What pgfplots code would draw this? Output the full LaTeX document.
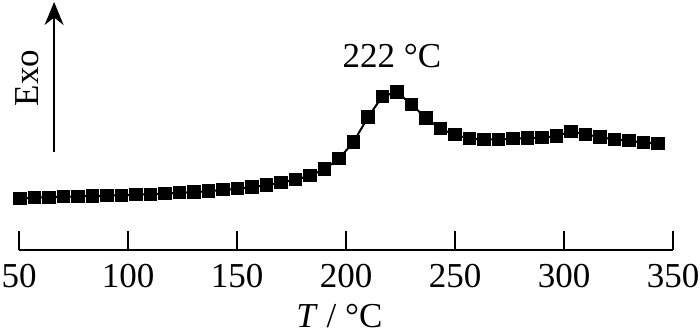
\documentclass[border=0pt]{standalone}
\usepackage{pgfplots}
\pgfplotsset{compat=1.18}
\usepackage{fontspec}
\setmainfont{Liberation Serif}
\usetikzlibrary{arrows.meta}
\begin{document}
\begin{tikzpicture}
\fontsize{17.5}{20}\selectfont
\begin{axis}[
  at={(0,0)}, anchor=south west,
  scale only axis, width=327pt, height=125.2pt,
  xmin=50, xmax=350, ymin=0, ymax=250.4,
  axis x line=bottom, hide y axis,
  x axis line style={-, line width=1pt},
  xtick={50,100,...,350},
  tick align=inside, major tick length=9.5pt,
  tick style={line width=1pt, black},
  xticklabel style={font=\fontsize{17.5}{20}\selectfont, yshift=-1pt},
  /pgf/number format/assume math mode=true,
  clip=false,
]
\addplot[black, line width=1pt, mark=square*, mark size=2.8pt] coordinates {
(50.5,52) (57.1,52.7) (63.8,53.2) (70.4,53.6) (77.1,54) (83.7,54.4) (90.4,54.8) (97.0,55.2) (103.7,55.7) (110.3,56.2)
(117.0,56.8) (123.6,57.5) (130.3,58.3) (136.9,59.3) (143.6,60.5) (150.2,61.7) (156.9,63.3) (163.5,65.3) (170.2,67.7) (176.8,70.7)
(183.5,74.8) (190.1,81.3) (196.8,91.7) (203.4,108.3) (210.1,133.3) (216.7,154) (223.4,158.3) (230.0,146) (236.7,132.3) (243.3,121.7)
(250.0,115.5) (256.6,111.7) (263.3,111) (269.9,111) (276.6,111.7) (283.2,112.3) (289.9,112.7) (296.5,114.3) (303.2,119) (309.8,116)
(316.5,113.3) (323.1,111) (329.8,109.7) (336.4,107.7) (343.1,106.7)
};
\draw[line width=0.85pt, -{Stealth[length=11.5pt,width=9.5pt]}] (axis cs:66.1,98.4) -- (axis cs:66.1,248.4);
\node[rotate=90] at (axis cs:53.7,172.4) {Exo};
\node at (axis cs:221.1,194.4) {222 °C};
\node at (axis cs:197,-65.5) {\textit{T} / °C};
\end{axis}
\pgfresetboundingbox
\useasboundingbox (-9.5pt,-42.8pt) rectangle (340.5pt,125.2pt);
\end{tikzpicture}
\end{document}
